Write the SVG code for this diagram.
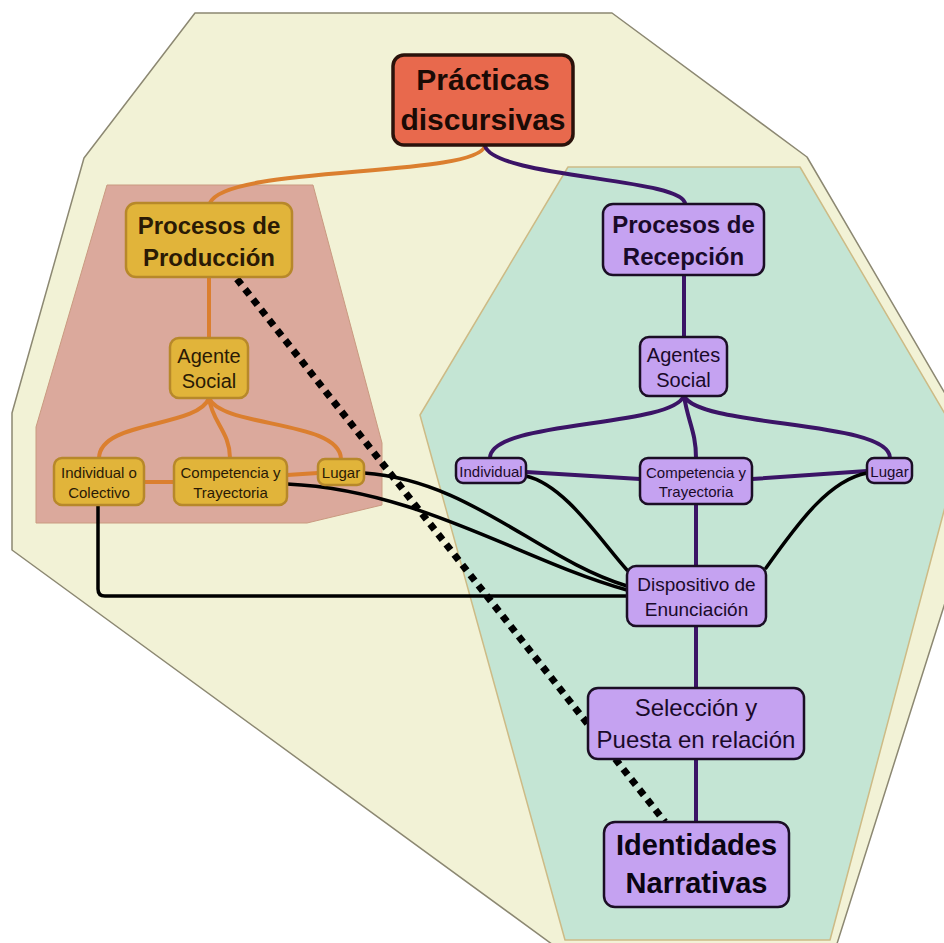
<svg xmlns="http://www.w3.org/2000/svg" width="944" height="943" viewBox="0 0 944 943">
<style>
.bg{fill:#f2f2d6;stroke:#8c8872;stroke-width:1.5;stroke-linejoin:round}
.green{fill:#c4e5d4;stroke:#cdbb86;stroke-width:1.5;stroke-linejoin:round}
.pink{fill:#dba99c;stroke:#c99a80;stroke-width:1;stroke-linejoin:round}
.c{fill:none;stroke-width:4;stroke-linecap:round}
.or{stroke:#db7f2f}
.pu{stroke:#3b1466}
.bk{stroke:#000;stroke-width:3.5}
.dot{fill:none;stroke:#000;stroke-width:7;stroke-dasharray:7 6}
.top{fill:#e8694d;stroke:#2a120b;stroke-width:3.5}
.pr{fill:#e1b43a;stroke:#b7882a;stroke-width:2.5}
.re{fill:#c5a2f1;stroke:#1b0e25;stroke-width:2.5}
text{font-family:"Liberation Sans",Arial,sans-serif;text-anchor:middle}
.b{font-weight:bold}
.tp{fill:#2a1a05}
.tr{fill:#1a0a2a}
</style>
<polygon class="bg" points="195,13 612,13 807,157 988,467 835,950 560,950 12,550 12,413 84,158"/>
<polygon class="green" points="568,167 800,167 962,443 830,940 565,940 420,415"/>
<polygon class="pink" points="107,185 313,185 382,443 382,505 307,523 36,523 36,427"/>
<g id="connectors">
<path class="c or" d="M485,146 C475,178 225,165 210,203"/>
<path class="c pu" d="M485,146 C495,178 685,178 685,204"/>
<path class="c or" d="M209,277 L209,338"/>
<path class="c or" d="M209,398 C198,428 100,420 99,458"/>
<path class="c or" d="M209,398 C212,422 230,432 230,458"/>
<path class="c or" d="M209,398 C222,428 340,420 341,459"/>
<path class="c or" d="M144,482 L174,482"/>
<path class="c or" d="M287,475 L318,473"/>
<path class="c pu" d="M684,275 L684,337"/>
<path class="c pu" d="M684,396 C670,428 490,420 490,458"/>
<path class="c pu" d="M684,396 C688,422 696,432 696,458"/>
<path class="c pu" d="M684,396 C700,428 890,420 890,458"/>
<path class="c pu" d="M526,472 L640,479"/>
<path class="c pu" d="M752,479 L867,471"/>
<path class="c pu" d="M696,504 L696,566"/>
<path class="c pu" d="M696,626 L696,688"/>
<path class="c pu" d="M696,759 L696,822"/>
<path class="c bk" d="M98,505 L98,589 Q98,596 105,596 L627,596"/>
<path class="c bk" d="M287,484 C420,490 520,560 627,590"/>
<path class="c bk" d="M364,473 C470,480 540,560 627,586"/>
<path class="c bk" d="M526,476 C565,485 600,540 627,570"/>
<path class="c bk" d="M867,473 C830,480 800,520 766,568"/>
<path class="dot" d="M237,279 L665,822"/>
</g>
<g id="practicas">
<rect class="top" x="393" y="55" width="180" height="90" rx="11"/>
<text class="b" x="483" y="90" font-size="30" fill="#1a0a05">Prácticas</text>
<text class="b" x="483" y="130" font-size="30" fill="#1a0a05">discursivas</text>
</g>
<g id="prod">
<rect class="pr" x="126" y="203" width="166" height="74" rx="10"/>
<text class="b tp" x="209" y="234" font-size="24">Procesos de</text>
<text class="b tp" x="209" y="266" font-size="24">Producción</text>
</g>
<g id="agente-prod">
<rect class="pr" x="170" y="338" width="78" height="60" rx="9"/>
<text class="tp" x="209" y="363" font-size="20">Agente</text>
<text class="tp" x="209" y="388" font-size="20">Social</text>
</g>
<g id="indcol">
<rect class="pr" x="54" y="458" width="90" height="47" rx="8"/>
<text class="tp" x="99" y="478" font-size="15">Individual o</text>
<text class="tp" x="99" y="498" font-size="15">Colectivo</text>
</g>
<g id="comp-prod">
<rect class="pr" x="174" y="458" width="113" height="47" rx="8"/>
<text class="tp" x="230.5" y="478" font-size="15">Competencia y</text>
<text class="tp" x="230.5" y="498" font-size="15">Trayectoria</text>
</g>
<g id="lugar-prod">
<rect class="pr" x="318" y="459" width="46" height="26" rx="7"/>
<text class="tp" x="341" y="478" font-size="15">Lugar</text>
</g>
<g id="rec">
<rect class="re" x="603" y="204" width="161" height="71" rx="10"/>
<text class="b tr" x="683.5" y="233" font-size="24">Procesos de</text>
<text class="b tr" x="683.5" y="265" font-size="24">Recepción</text>
</g>
<g id="agentes-rec">
<rect class="re" x="640" y="337" width="87" height="59" rx="9"/>
<text class="tr" x="683.5" y="362" font-size="20">Agentes</text>
<text class="tr" x="683.5" y="387" font-size="20">Social</text>
</g>
<g id="individual-rec">
<rect class="re" x="456" y="458" width="70" height="25" rx="7"/>
<text class="tr" x="491" y="477" font-size="15">Individual</text>
</g>
<g id="comp-rec">
<rect class="re" x="640" y="458" width="112" height="46" rx="8"/>
<text class="tr" x="696" y="478" font-size="15">Competencia y</text>
<text class="tr" x="696" y="497" font-size="15">Trayectoria</text>
</g>
<g id="lugar-rec">
<rect class="re" x="867" y="458" width="45" height="25" rx="7"/>
<text class="tr" x="889.5" y="477" font-size="15">Lugar</text>
</g>
<g id="dispositivo">
<rect class="re" x="627" y="566" width="139" height="60" rx="9"/>
<text class="tr" x="696.5" y="591" font-size="19">Dispositivo de</text>
<text class="tr" x="696.5" y="616" font-size="19">Enunciación</text>
</g>
<g id="seleccion">
<rect class="re" x="588" y="688" width="216" height="71" rx="10"/>
<text class="tr" x="696" y="716" font-size="24">Selección y</text>
<text class="tr" x="696" y="748" font-size="24">Puesta en relación</text>
</g>
<g id="identidades">
<rect class="re" x="604" y="822" width="185" height="85" rx="11"/>
<text class="b" x="696.5" y="855" font-size="29" fill="#0a0512">Identidades</text>
<text class="b" x="696.5" y="893" font-size="29" fill="#0a0512">Narrativas</text>
</g>
</svg>
